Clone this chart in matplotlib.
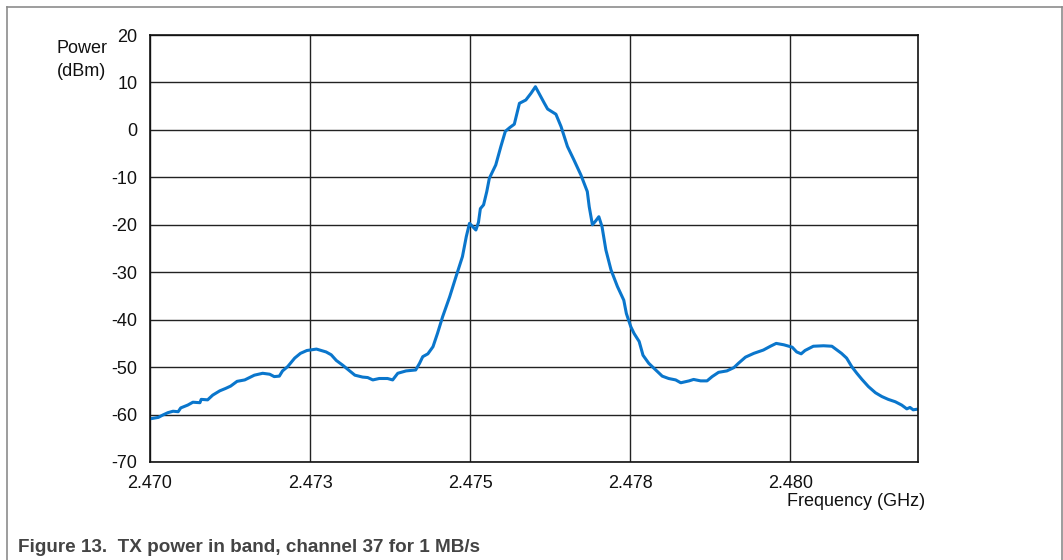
import matplotlib.pyplot as plt
from matplotlib.lines import Line2D

plt.rcParams['font.family'] = ['Liberation Sans', 'DejaVu Sans']
plt.rcParams['axes.unicode_minus'] = False

# measured spectrum, frequency in GHz and power in dBm
freq = [2.47000, 2.47013, 2.47020, 2.47028, 2.47036, 2.47044, 2.47048, 2.47059,
        2.47067, 2.47078, 2.47080, 2.47090, 2.47098, 2.47109, 2.47118, 2.47126,
        2.47136, 2.47148, 2.47163, 2.47176, 2.47187, 2.47194, 2.47202, 2.47207,
        2.47215, 2.47226, 2.47235, 2.47245, 2.47260, 2.47275, 2.47283, 2.47291,
        2.47301, 2.47312, 2.47320, 2.47332, 2.47340, 2.47348, 2.47358, 2.47371,
        2.47379, 2.47387, 2.47400, 2.47415, 2.47421, 2.47426, 2.47434, 2.47442,
        2.47449, 2.47457, 2.47468, 2.47478, 2.47488, 2.47494, 2.47499, 2.47504,
        2.47509, 2.47513, 2.47516, 2.47521, 2.47526, 2.47530, 2.47540, 2.47548,
        2.47555, 2.47562, 2.47569, 2.47577, 2.47587, 2.47595, 2.47602, 2.47608,
        2.47616, 2.47621, 2.47634, 2.47642, 2.47652, 2.47662, 2.47673, 2.47683,
        2.47686, 2.47691, 2.47696, 2.47701, 2.47706, 2.47712, 2.47720, 2.47730,
        2.47740, 2.47744, 2.47751, 2.47756, 2.47764, 2.47770, 2.47779, 2.47790,
        2.47800, 2.47810, 2.47821, 2.47829, 2.47842, 2.47849, 2.47860, 2.47870,
        2.47878, 2.47888, 2.47901, 2.47912, 2.47919, 2.47930, 2.47943, 2.47958,
        2.47969, 2.47978, 2.47990, 2.48003, 2.48010, 2.48017, 2.48023, 2.48036,
        2.48052, 2.48065, 2.48073, 2.48080, 2.48088, 2.48096, 2.48104, 2.48112,
        2.48122, 2.48133, 2.48143, 2.48153, 2.48164, 2.48174, 2.48182, 2.48187,
        2.48192, 2.48197]
power = [-60.9, -60.6, -60.1, -59.6, -59.3, -59.4, -58.6, -58.0,
         -57.4, -57.5, -56.8, -56.9, -55.9, -55.0, -54.5, -54.0,
         -53.0, -52.7, -51.7, -51.3, -51.5, -52.0, -51.9, -50.8,
         -49.9, -48.1, -47.1, -46.5, -46.2, -46.8, -47.4, -48.6,
         -49.6, -50.8, -51.7, -52.1, -52.2, -52.7, -52.4, -52.4,
         -52.7, -51.3, -50.8, -50.6, -49.2, -47.8, -47.2, -45.7,
         -42.9, -39.4, -35.2, -30.9, -26.7, -22.5, -19.7, -20.4,
         -21.1, -19.5, -16.6, -15.8, -13.0, -10.2, -7.4, -3.5,
         -0.3, 0.5, 1.2, 5.6, 6.3, 7.7, 9.1, 7.6,
         5.6, 4.4, 3.3, 0.7, -3.5, -6.3, -9.5, -13.0,
         -16.2, -20.0, -19.2, -18.3, -20.4, -25.3, -29.5, -33.0,
         -35.9, -38.7, -41.5, -42.9, -44.6, -47.5, -49.2, -50.6,
         -51.9, -52.4, -52.7, -53.3, -52.9, -52.6, -52.9, -52.9,
         -52.0, -51.1, -50.8, -50.1, -49.2, -47.9, -47.1, -46.4,
         -45.6, -45.0, -45.3, -45.8, -46.8, -47.2, -46.5, -45.6,
         -45.5, -45.6, -46.4, -47.1, -48.1, -49.9, -51.3, -52.6,
         -54.1, -55.4, -56.2, -56.8, -57.3, -58.0, -58.8, -58.5,
         -59.0, -58.9]

x_ticks = [2.470, 2.4725, 2.475, 2.4775, 2.480]
x_labels = ['2.470', '2.473', '2.475', '2.478', '2.480']
y_ticks = list(range(-70, 21, 10))

fig = plt.figure(figsize=(10.63, 5.6), dpi=100)
ax = fig.add_axes([0.1411, 0.175, 0.7228, 0.7625])

ax.plot(freq, power, color='#0a76cc', lw=2.2, solid_joinstyle='round')

ax.set_xlim(2.470, 2.482)
ax.set_ylim(-70, 20)
ax.set_xticks(x_ticks)
ax.set_xticklabels(x_labels)
ax.set_yticks(y_ticks)
ax.tick_params(length=0, labelsize=13, colors='#111111')
ax.tick_params(axis='y', pad=9)
ax.tick_params(axis='x', pad=9)
ax.grid(True, color='#222222', lw=1.0)
ax.set_axisbelow(True)
for s in ax.spines.values():
    s.set_color('#111111')
    s.set_linewidth(1.2)

fig.text(82 / 1063, 1 - 60 / 560, 'Power\n(dBm)', ha='center', va='center',
         fontsize=13, color='#111111', linespacing=1.4)
fig.text(787 / 1063, 1 - 502 / 560, 'Frequency (GHz)', ha='left', va='center',
         fontsize=13, color='#111111')

fig.text(18 / 1063, 1 - 548 / 560, 'Figure 13.  TX power in band, channel 37 for 1 MB/s',
         ha='left', va='center', fontsize=13.6, fontweight='bold', color='#444444')

# page frame around the figure
fx0, fx1, fy1 = 6.5 / 1063, 1061.5 / 1063, 1 - 6.5 / 560
for xs, ys in [([fx0, fx0], [0, fy1]), ([fx0, fx1], [fy1, fy1]), ([fx1, fx1], [fy1, 0])]:
    fig.add_artist(Line2D(xs, ys, transform=fig.transFigure, color='#8c8c8c', lw=1.2))

fig.savefig('out.png', dpi=100)
